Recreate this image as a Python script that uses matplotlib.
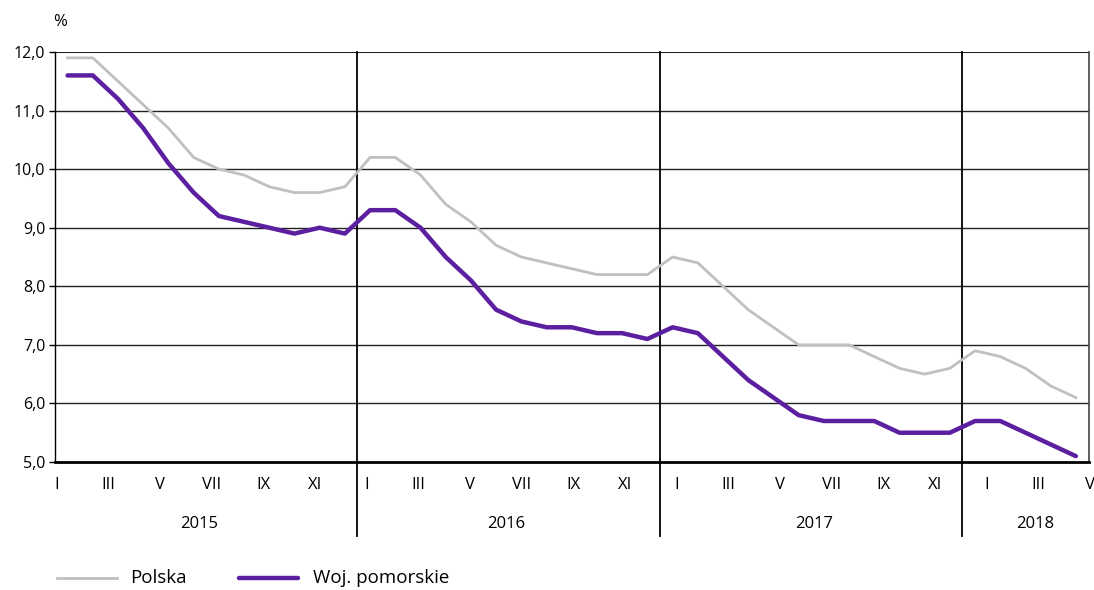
import matplotlib
matplotlib.use("Agg")
import matplotlib.pyplot as plt
from matplotlib.lines import Line2D

plt.rcParams['font.family'] = ['Open Sans', 'DejaVu Sans']

# monthly unemployment rate, I 2015 - V 2018
polska = [11.9, 11.9, 11.5, 11.1, 10.7, 10.2, 10.0, 9.9, 9.7, 9.6, 9.6, 9.7,
          10.2, 10.2, 9.9, 9.4, 9.1, 8.7, 8.5, 8.4, 8.3, 8.2, 8.2, 8.2,
          8.5, 8.4, 8.0, 7.6, 7.3, 7.0, 7.0, 7.0, 6.8, 6.6, 6.5, 6.6,
          6.9, 6.8, 6.6, 6.3, 6.1]
pomorskie = [11.6, 11.6, 11.2, 10.7, 10.1, 9.6, 9.2, 9.1, 9.0, 8.9, 9.0, 8.9,
             9.3, 9.3, 9.0, 8.5, 8.1, 7.6, 7.4, 7.3, 7.3, 7.2, 7.2, 7.1,
             7.3, 7.2, 6.8, 6.4, 6.1, 5.8, 5.7, 5.7, 5.7, 5.5, 5.5, 5.5,
             5.7, 5.7, 5.5, 5.3, 5.1]
month_labels = ['I', 'III', 'V', 'VII', 'IX', 'XI']
years = ['2015', '2016', '2017', '2018']
year_months = [12, 12, 12, 5]
y_ticks = [5.0, 6.0, 7.0, 8.0, 9.0, 10.0, 11.0, 12.0]

GRAY = '#c0c0c0'
PURPLE = '#5b1fa0'

n = len(polska)
x = [i + 0.5 for i in range(n)]

fig = plt.figure(figsize=(10.94, 5.90), dpi=100)
ax = fig.add_axes([55 / 1094, (590 - 462) / 590, (1088.5 - 55) / 1094, (462 - 52) / 590])

# horizontal grid
for v in y_ticks[1:]:
    ax.axhline(v, color='#222222', lw=1.0 if v < 12 else 1.5, zorder=1)

ax.plot(x, polska, color=GRAY, lw=2.0, zorder=3, solid_joinstyle='round')
ax.plot(x, pomorskie, color=PURPLE, lw=3.2, zorder=4, solid_joinstyle='round',
        solid_capstyle='round')

ax.set_xlim(0, n)
ax.set_ylim(5.0, 12.0)
ax.set_yticks(y_ticks)
ax.set_yticklabels([f"{v:.1f}".replace('.', ',') for v in y_ticks], fontsize=11.5)
ax.tick_params(axis='y', length=4, width=1, pad=3, colors='black')
ax.set_xticks([])

for s in ['top', 'right']:
    ax.spines[s].set_visible(False)
ax.spines['left'].set_linewidth(1.0)
ax.spines['bottom'].set_linewidth(2.0)
ax.plot([n, n], [5.0, 12.0], color='#444444', lw=1.2, clip_on=False, zorder=2)

# year separators, extended below the axis
trans = ax.get_xaxis_transform()
year_pos = [5.7, 17.9, 30.1, 38.9]
start = 0
for i, (yr, cnt) in enumerate(zip(years, year_months)):
    if i > 0:
        ax.plot([start, start], [-0.18, 1.0], color='black', lw=1.3,
                transform=trans, clip_on=False, zorder=2)
    ax.text(year_pos[i], -0.15, yr, transform=trans, ha='center', va='center',
            fontsize=12)
    start += cnt

# month labels spread evenly across the axis width
step = n / (n - 1)
for k in range(0, n, 2):
    lab = month_labels[(k % 12) // 2]
    ax.text(k * step + 0.07, -0.055, lab, transform=trans, ha='center', va='center',
            fontsize=12)

fig.text(53 / 1094, 1 - 22 / 590, '%', ha='left', va='center', fontsize=12)

# legend drawn by hand
ly = 1 - 578 / 590
fig.add_artist(Line2D([57 / 1094, 117 / 1094], [ly, ly], color=GRAY, lw=2.0))
fig.text(130 / 1094, ly, 'Polska', ha='left', va='center', fontsize=13.5)
fig.add_artist(Line2D([239 / 1094, 298 / 1094], [ly, ly], color=PURPLE, lw=3.2,
                      solid_capstyle='round'))
fig.text(313 / 1094, ly, 'Woj. pomorskie', ha='left', va='center', fontsize=13.5)

fig.savefig('out.png', dpi=100)
